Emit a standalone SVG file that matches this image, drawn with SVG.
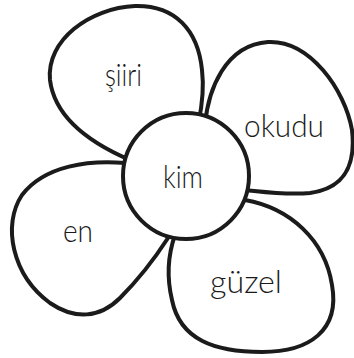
<svg xmlns="http://www.w3.org/2000/svg" width="354" height="358" viewBox="0 0 354 358">
<style>
.p{fill:#fff;stroke:#1b1b1b;stroke-width:4;stroke-linejoin:round}
.t{font-family:Lato,"Open Sans","Liberation Sans",sans-serif;font-weight:300;font-size:31px;fill:#1a1a1a}
</style>
<rect width="354" height="358" fill="#fff"/>
<g id="petal-siiri">
<path class="p" d="M 130,160 C 95,145 55,120 50,80 C 46,40 90,8 135,6 C 175,5 198,30 202,70 C 205,95 200,115 198,125 Z"/>
<text class="t" x="105" y="86" textLength="37" lengthAdjust="spacingAndGlyphs">şiiri</text>
</g>
<g id="petal-okudu">
<path class="p" d="M 205,125 C 208,90 225,45 268,42 C 310,40 345,90 352,130 C 356,165 345,188 310,193 C 285,195 265,192 245,190 Z"/>
<text class="t" x="244" y="137" textLength="80" lengthAdjust="spacingAndGlyphs">okudu</text>
</g>
<g id="petal-guzel">
<path class="p" d="M 245,200 C 290,208 325,240 332,285 C 340,330 310,352 262,352 C 215,352 180,340 172,300 C 166,275 168,255 175,235 Z"/>
<text class="t" x="210" y="293" textLength="72" lengthAdjust="spacingAndGlyphs">güzel</text>
</g>
<g id="petal-en">
<path class="p" d="M 125,163 C 90,160 45,165 22,195 C 2,225 12,275 50,303 C 75,320 100,318 120,298 C 140,278 155,258 168,238 Z"/>
<text class="t" x="63" y="242" textLength="30" lengthAdjust="spacingAndGlyphs">en</text>
</g>
<g id="center-kim">
<circle class="p" cx="186" cy="176" r="63"/>
<text class="t" x="163" y="188" textLength="40" lengthAdjust="spacingAndGlyphs">kim</text>
</g>
<g id="connectors"/>
</svg>
